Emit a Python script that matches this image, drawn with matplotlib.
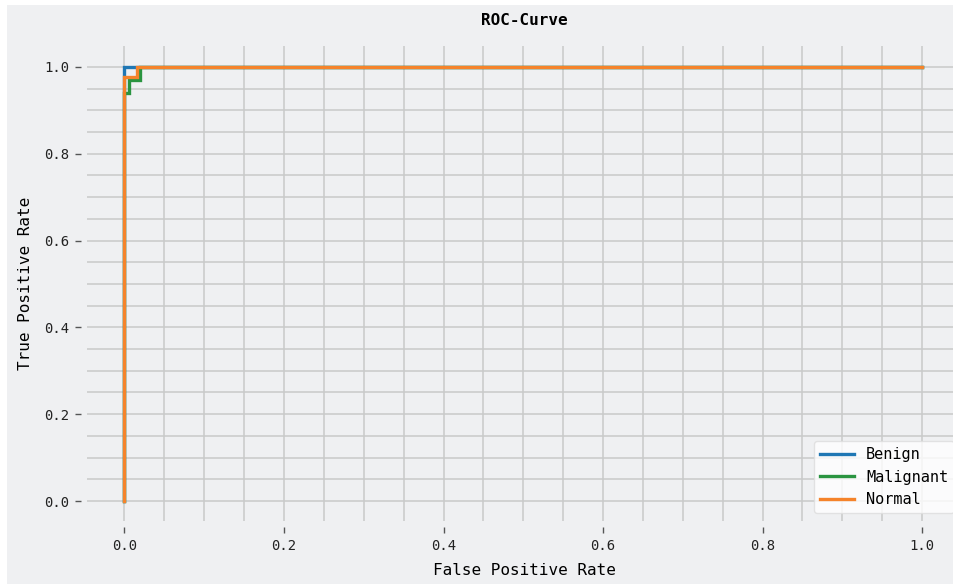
import matplotlib.pyplot as plt
from matplotlib.patches import Rectangle
from matplotlib.ticker import MultipleLocator

# ROC points per class (false positive rate, true positive rate)
classes = ['Benign', 'Malignant', 'Normal']
colors = ['#1f77b4', '#2a9440', '#f5832a']
fpr_benign = [0.0, 0.0, 1.0]
tpr_benign = [0.0, 1.0, 1.0]
fpr_malignant = [0.0, 0.0, 0.006, 0.006, 0.02, 0.02, 1.0]
tpr_malignant = [0.0, 0.94, 0.94, 0.97, 0.97, 1.0, 1.0]
fpr_normal = [0.0, 0.0, 0.016, 0.016, 1.0]
tpr_normal = [0.0, 0.977, 0.977, 1.0, 1.0]

bg = '#eff0f2'
plt.rcParams['font.family'] = ['DejaVu Sans Mono']

fig = plt.figure(figsize=(9.54, 5.84), dpi=100, facecolor='white')
fig.patches.append(Rectangle((7 / 954, 0), 1, 1 - 5 / 584, transform=fig.transFigure,
                             facecolor=bg, edgecolor='none', zorder=-10))
ax = fig.add_axes([87 / 954, 63 / 584, 875 / 954, 475 / 584])
ax.set_facecolor(bg)

curves = [(fpr_benign, tpr_benign), (fpr_malignant, tpr_malignant), (fpr_normal, tpr_normal)]
for (fpr, tpr), name, c in zip(curves, classes, colors):
    ax.plot(fpr, tpr, color=c, lw=2.4, label=name, solid_joinstyle='miter')

ax.set_xlim(-0.047, 1.05)
ax.set_ylim(-0.046, 1.048)
ax.xaxis.set_major_locator(MultipleLocator(0.2))
ax.yaxis.set_major_locator(MultipleLocator(0.2))
ax.xaxis.set_minor_locator(MultipleLocator(0.05))
ax.yaxis.set_minor_locator(MultipleLocator(0.05))
ax.grid(True, which='both', color='#c9c9c9', lw=1.1)
ax.set_axisbelow(True)

for side in ['left', 'bottom']:
    ax.spines[side].set_position(('outward', 4))
for s in ax.spines.values():
    s.set_visible(False)
ax.tick_params(which='major', direction='out', length=4, width=1, color='#555555',
               labelsize=10, labelcolor='#222222', pad=5)
ax.tick_params(which='minor', length=0)

ax.set_title('ROC-Curve', fontsize=11.5, fontweight='bold', pad=15)
ax.set_xlabel('False Positive Rate', fontsize=11.5, labelpad=7)
ax.set_ylabel('True Positive Rate', fontsize=11.5, labelpad=8)

leg = ax.legend(loc='lower right', fontsize=11, frameon=True, fancybox=True,
                handlelength=2.2)
leg.get_frame().set_facecolor('white')
leg.get_frame().set_edgecolor('#dddddd')

fig.savefig('out.png', dpi=100, facecolor=fig.get_facecolor())
